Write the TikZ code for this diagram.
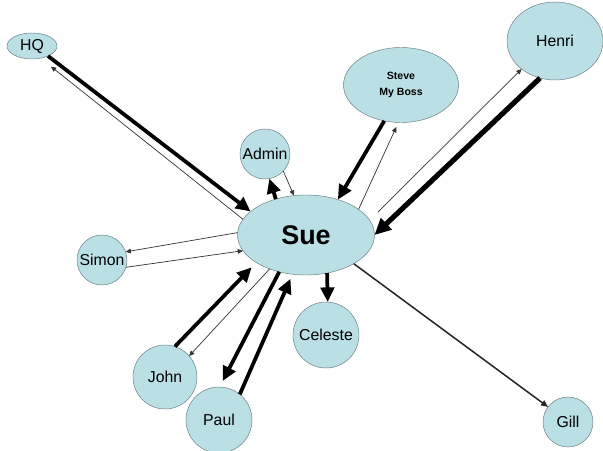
\documentclass[tikz,border=0pt]{standalone}
\usepackage{fontspec}
\setmainfont{Liberation Sans}
\usetikzlibrary{shapes.geometric, arrows.meta}
\definecolor{bubble}{RGB}{186,223,228}
\definecolor{rim}{RGB}{105,125,130}
\tikzset{
	every node/.style = {inner sep = 0pt, outer sep = 0pt},
	person/.style = {circle, draw = rim, fill = bubble, font = \fontsize{13.5}{16}\selectfont},
	big/.style = {ellipse, draw = rim, fill = bubble, font = \fontsize{13.5}{16}\selectfont, align = center},
	arrow/.style = {-{Triangle[length = 12.5pt, width = 11.5pt]}, draw = black, line width = 3.2pt},
	arrowheavy/.style = {arrow, line width = 4.4pt, -{Triangle[length = 14pt, width = 13pt]}},
	arrowthin/.style = {-{Triangle[length = 4.5pt, width = 4pt]}, draw = black!80, line width = 0.6pt},
	arrowmid/.style = {-{Triangle[length = 6pt, width = 5pt]}, draw = black!85, line width = 1.3pt}
}

\begin{document}
\begin{tikzpicture}[x = 0.03cm, y = -0.03cm]
	\useasboundingbox (0,0) rectangle (603,451);

		% centre node
		\node (sue) [big, minimum width = 4.11cm, minimum height = 2.4cm, font = \fontsize{23}{26}\selectfont\bfseries] at (306,235) {Sue};

		% top nodes
		\node (hq) [big, minimum width = 1.5cm, minimum height = 0.78cm] at (32,46) {HQ};
		\node (steve) [big, minimum width = 3.45cm, minimum height = 2.25cm, font = \fontsize{9}{13}\selectfont\bfseries] at (401,85) {Steve\\My Boss};
		\node (henri) [big, minimum width = 2.88cm, minimum height = 2.34cm] at (555,41) {Henri};
		\node (admin) [person, minimum size = 1.5cm] at (265,154) {Admin};

		% lower nodes
		\node (simon) [person, minimum size = 1.5cm] at (102,260) {Simon};
		\node (john) [person, minimum size = 1.92cm] at (165,377) {John};
		\node (paul) [person, minimum size = 1.98cm] at (219,420) {Paul};
		\node (celeste) [person, minimum size = 1.98cm] at (326,335) {Celeste};
		\node (gill) [person, minimum size = 1.5cm] at (568,422) {Gill};

		%%% arrows %%%
		\draw [arrow] (hq.-32) -- (sue.157);
		\draw [arrowthin, shorten >= 0.4cm] (sue.166) -- (hq.-55);
		\draw [arrow] (sue.130) -- (admin.-80);
		\draw [arrowthin] (admin.-43) -- (sue.107);
		\draw [arrow] (steve.-115) -- (sue.48);
		\draw [arrowthin, shorten >= 0.15cm] (sue.26) -- (steve.-94);
		\draw [arrowheavy] (henri.-112) -- (sue.0);
		\draw [arrowthin, shorten <= 0.35cm] (sue.13) -- (henri.-140);

		\draw [arrowthin] (sue.178) -- (simon.19);
		\draw [arrowthin] (simon.-17) -- (sue.194);
		\draw [arrow, shorten >= 0.2cm] (john.72) -- (sue.-151);
		\draw [arrowthin] (sue.-137) -- (john.41);
		\draw [arrow, shorten >= 0.2cm] (sue.-126) -- (paul.89);
		\draw [arrow, shorten >= 0.15cm] (paul.51) -- (sue.-109);
		\draw [arrow] (sue.-61) -- (celeste.87);
		\draw [arrowmid] (sue.-31) -- (gill.143);
	\end{tikzpicture}
\end{document}
